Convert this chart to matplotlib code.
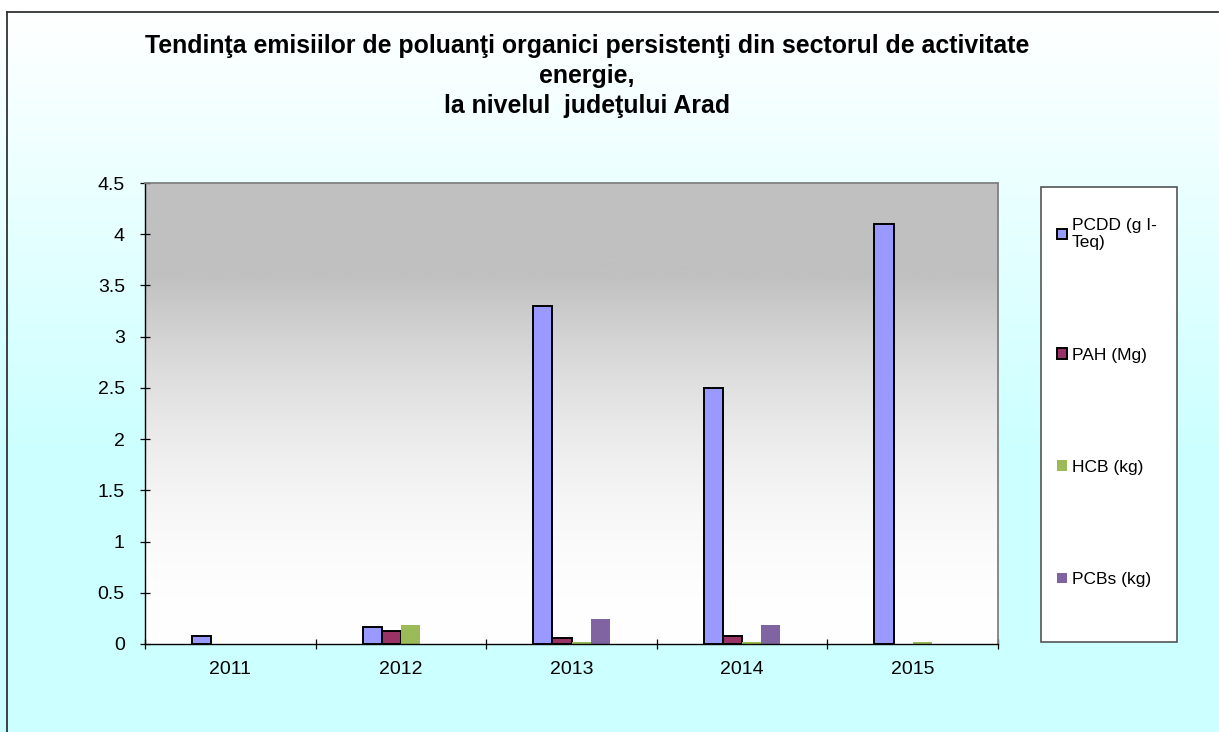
import numpy as np
import matplotlib
matplotlib.use("Agg")
import matplotlib.pyplot as plt
from matplotlib.lines import Line2D
from matplotlib.patches import Rectangle

plt.rcParams["font.family"] = ["Liberation Sans", "DejaVu Sans"]

years = ["2011", "2012", "2013", "2014", "2015"]
series_names = ["PCDD (g I-\nTeq)", "PAH (Mg)", "HCB (kg)", "PCBs (kg)"]
# missing values are left empty so no bar outline is drawn
pcdd = [0.075, 0.17, 3.3, 2.5, 4.1]
pah = [np.nan, 0.13, 0.055, 0.08, np.nan]
hcb = [np.nan, 0.19, 0.02, 0.015, 0.02]
pcbs = [np.nan, np.nan, 0.24, 0.19, np.nan]
y_ticks = [0, 0.5, 1, 1.5, 2, 2.5, 3, 3.5, 4, 4.5]

W, H = 1219, 732
fig = plt.figure(figsize=(W / 100, H / 100), dpi=100)

# chart area: white fading into light cyan
bg = fig.add_axes([0, 0, 1, 1], zorder=-10)
bg.set_axis_off()
rows = np.arange(H)
t = np.clip((rows - 12) / 440.0, 0, 1)
white = np.array([1.0, 1.0, 1.0])
cyan = np.array([0xCC, 0xFF, 0xFF]) / 255.0
grad = white[None, :] * (1 - t[:, None]) + cyan[None, :] * t[:, None]
grad[:12] = 1.0
bg.imshow(grad[:, None, :], aspect="auto", extent=[0, 1, 0, 1], origin="upper")
bg.set_xlim(0, 1)
bg.set_ylim(0, 1)
bg.add_line(Line2D([7 / W, 1218 / W], [1 - 12 / H, 1 - 12 / H], color="#333333", lw=1.3))
bg.add_line(Line2D([7 / W, 7 / W], [0, 1 - 12 / H], color="#333333", lw=1.3))

# plot area
left, right, top, bottom = 145, 998, 183, 644
ax = fig.add_axes([left / W, 1 - bottom / H, (right - left) / W, (bottom - top) / H])

f = np.linspace(0, 1, 400)
s = np.clip((f - 0.2) / 0.8, 0, 1)
tg = 1 - (1 - s) ** 2
gray = 0xC0 / 255 + (1 - 0xC0 / 255) * tg
ax.imshow(np.repeat(gray[:, None, None], 3, axis=2), aspect="auto",
          extent=[-0.5, 4.5, 0, 4.5], origin="upper", zorder=0)

x = np.arange(len(years))
w = 0.112
ax.bar(x - 1.5 * w, pcdd, w, color="#9999FF", edgecolor="black", linewidth=1.4,
       label=series_names[0], zorder=2)
ax.bar(x - 0.5 * w, pah, w, color="#993366", edgecolor="black", linewidth=1.4,
       label=series_names[1], zorder=2)
ax.bar(x + 0.5 * w, hcb, w, color="#9BBB59", linewidth=0,
       label=series_names[2], zorder=2)
ax.bar(x + 1.5 * w, pcbs, w, color="#8064A2", linewidth=0,
       label=series_names[3], zorder=2)

ax.set_xlim(-0.5, 4.5)
ax.set_ylim(0, 4.5)
ax.set_yticks(y_ticks)
ax.set_yticklabels([f"{v:g}" for v in y_ticks])
ax.set_xticks(x)
ax.set_xticklabels(years)
ax.set_xticks(np.arange(-0.5, 5, 1), minor=True)
ax.tick_params(axis="x", which="major", length=0, pad=12, labelsize=14)
ax.tick_params(axis="x", which="minor", direction="inout", length=7, width=0.9)
ax.tick_params(axis="y", direction="inout", length=7, width=0.9, pad=11, labelsize=14)

for side in ("left", "bottom"):
    ax.spines[side].set_color("black")
    ax.spines[side].set_linewidth(1.0)
for side in ("top", "right"):
    ax.spines[side].set_color("#808080")
    ax.spines[side].set_linewidth(1.3)

# legend frame and entries
fig.add_artist(Rectangle((1041 / W, 1 - 642 / H), 136 / W, 455 / H,
                         transform=fig.transFigure, facecolor="white",
                         edgecolor="#555555", lw=1.2, zorder=1))
leg = fig.legend(loc="upper left", bbox_to_anchor=(1057 / W, 1 - 218 / H),
                 frameon=False, fontsize=12.5, handlelength=0.55, handleheight=0.55,
                 handletextpad=0.3, labelspacing=5.6, borderpad=0, borderaxespad=0)
leg.set_zorder(3)

fig.text(587 / W, 1 - 76 / H,
         "Tendinţa emisiilor de poluanţi organici persistenţi din sectorul de activitate\n"
         "energie,\nla nivelul  judeţului Arad",
         ha="center", va="center", ma="center", fontsize=17.9, fontweight="bold",
         linespacing=1.33)

fig.savefig("out.png", dpi=100)
